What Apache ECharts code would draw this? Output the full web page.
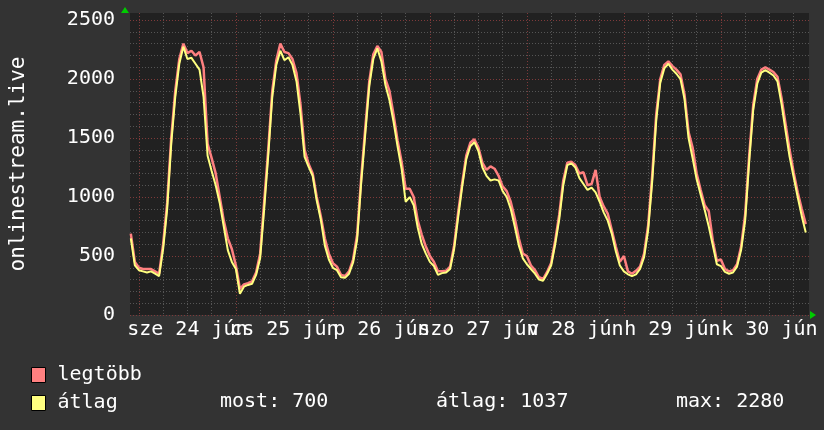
<!DOCTYPE html>
<html style="height: 100%">
<head>
    <meta charset="utf-8">
</head>
<body style="height: 100%; margin: 0; background: #333333">
<div id="container" style="width: 824px; height: 430px"></div>
<script type="text/javascript" src="https://cdn.jsdelivr.net/npm/echarts@6/dist/echarts.min.js"></script>
<script type="text/javascript">
    // hours counted from sze 24 jún 00:00, one value per hour
    var startHour = -2;
    var legtobb = [
        690, 450,
        400, 390, 390, 390, 370, 350, 600, 950, 1500, 1900, 2170, 2300, 2220, 2240, 2200, 2230, 2100, 1450, 1330, 1200, 1000, 800, 650, 560,
        420, 220, 260, 270, 285, 360, 520, 960, 1400, 1900, 2160, 2300, 2230, 2220, 2170, 2050, 1780, 1400, 1280, 1200, 1000, 840, 650, 520,
        440, 410, 340, 330, 370, 470, 680, 1160, 1580, 1980, 2210, 2280, 2230, 2000, 1900, 1700, 1480, 1300, 1070, 1070, 1000, 800, 680, 580,
        500, 450, 370, 370, 375, 410, 590, 870, 1120, 1350, 1460, 1490, 1420, 1290, 1230, 1260, 1240, 1180, 1090, 1050, 960, 820, 650, 520,
        500, 420, 380, 320, 305, 365, 440, 630, 850, 1140, 1290, 1300, 1270, 1200, 1210, 1100, 1110, 1230, 1000, 920, 860, 720, 580, 450,
        500, 370, 350, 375, 410, 520, 760, 1180, 1700, 2000, 2120, 2150, 2110, 2080, 2040, 1870, 1550, 1420, 1200, 1060, 930, 880, 630, 460,
        470, 390, 370, 380, 430, 580, 850, 1350, 1780, 2000, 2080, 2100, 2080, 2060, 2020, 1840, 1620, 1400, 1210, 1040, 900, 770
    ];
    var atlag = [
        650, 420,
        380, 370, 360, 370, 350, 330, 560, 900, 1450, 1850, 2130, 2275, 2170, 2180, 2130, 2080, 1850, 1350, 1220, 1100, 950, 750, 550, 450,
        390, 180, 240, 255, 265, 340, 480, 900, 1350, 1850, 2120, 2240, 2160, 2185, 2120, 1980, 1700, 1340, 1255, 1180, 970, 810, 590, 470,
        400, 380, 320, 315, 350, 445, 640, 1120, 1530, 1940, 2170, 2260, 2150, 1950, 1820, 1640, 1430, 1240, 960, 1000, 930, 740, 600, 520,
        450, 415, 340, 355, 360, 390, 560, 830, 1090, 1320, 1430, 1465, 1390, 1250, 1180, 1140, 1150, 1140, 1050, 1000, 900, 750, 590, 480,
        430, 390, 350, 300, 290, 350, 420, 600, 810, 1100, 1270, 1285, 1250, 1160, 1110, 1060, 1080, 1040, 960, 870, 800, 690, 540, 420,
        370, 345, 330, 345, 390, 490, 720, 1130, 1650, 1970, 2090, 2130, 2080, 2045, 2000, 1830, 1500, 1330, 1150, 1020, 890, 750, 590, 430,
        415, 365, 350, 360, 410, 550, 800, 1300, 1740, 1960, 2055, 2075, 2055, 2030, 1980, 1790, 1560, 1340, 1170, 1000, 840, 700
    ];

    var xGridHours = [0, 6, 12, 18, 24, 30, 36, 42, 48, 54, 60, 66, 72, 78, 84, 90, 96, 102, 108, 114, 120, 126, 132, 138, 144, 150, 156, 162];
    var xLabelHours = [12, 36, 60, 84, 108, 132, 156];
    var xLabels = ['sze 24 jún', 'cs 25 jún', 'p 26 jún', 'szo 27 jún', 'v 28 jún', 'h 29 jún', 'k 30 jún'];
    var yGrid = [];
    for (var g = 0; g <= 2500; g += 100) yGrid.push(g);
    var yLabels = [0, 500, 1000, 1500, 2000, 2500];

    var statNow = 700, statAvg = 1037, statMax = 2280;

    function toPoints(arr) {
        return arr.map(function (v, i) { return [startHour + i, v]; });
    }

    var font = 'DejaVu Sans Mono';
    var red = '#7e3a3a', gray = '#555555';

    // day labels overlap each other, so every other one goes on a second axis
    function labelAxis(hours, withGrid) {
        return {
            type: 'value', min: -2.2, max: 165.8, position: 'bottom',
            axisLine: { show: false },
            axisTick: { show: false, customValues: xGridHours },
            splitLine: { show: withGrid, lineStyle: { type: [1, 2], width: 1, color: [red, gray, gray, gray] } },
            axisLabel: {
                customValues: hours, color: '#fff', fontSize: 20, fontFamily: font, margin: 5,
                showMinLabel: true, showMaxLabel: true, hideOverlap: false,
                formatter: function (v) { return xLabels[xLabelHours.indexOf(v)]; }
            }
        };
    }
    var evenHours = xLabelHours.filter(function (h, i) { return i % 2 === 0; });
    var oddHours = xLabelHours.filter(function (h, i) { return i % 2 === 1; });

    var dom = document.getElementById("container");
    var myChart = echarts.init(dom);
    var option = {
        animation: false,
        backgroundColor: '#333333',
        textStyle: { fontFamily: font },
        grid: {
            left: 123, right: 15, top: 13, bottom: 115,
            show: true, backgroundColor: '#212121', borderWidth: 0
        },
        legend: {
            orient: 'vertical',
            left: 31, top: 365, padding: 0,
            itemWidth: 14, itemHeight: 15, itemGap: 8,
            icon: 'rect',
            itemStyle: { borderColor: '#000', borderWidth: 1 },
            textStyle: { color: '#fff', fontSize: 20, fontFamily: font, padding: [0, 0, 0, 7] },
            data: ['legtöbb', 'átlag']
        },
        xAxis: [labelAxis(evenHours, true), labelAxis(oddHours, false)],
        yAxis: {
            type: 'value', min: 0, max: 2560,
            name: 'onlinestream.live', nameLocation: 'middle', nameRotate: 90, nameGap: 101,
            nameTextStyle: { color: '#fff', fontSize: 21, fontFamily: font },
            axisLine: { show: false },
            axisTick: { show: false, customValues: yGrid },
            splitLine: { show: true, lineStyle: { type: [1, 2], width: 1, color: [red, gray, gray, gray, gray] } },
            axisLabel: {
                customValues: yLabels, color: '#fff', fontSize: 20, fontFamily: font, margin: 15,
                showMinLabel: true, showMaxLabel: true,
                formatter: function (v) { return String(v); }
            }
        },
        graphic: [
            { type: 'polygon', shape: { points: [[125, 7], [121, 13], [129, 13]] }, style: { fill: '#00cc00' } },
            { type: 'polygon', shape: { points: [[816, 315], [810, 311], [810, 319]] }, style: { fill: '#00cc00' } },
            { type: 'text', left: 220, top: 392, style: { text: 'most: ' + statNow, fill: '#fff', font: '20px "DejaVu Sans Mono"' } },
            { type: 'text', left: 436, top: 392, style: { text: 'átlag: ' + statAvg, fill: '#fff', font: '20px "DejaVu Sans Mono"' } },
            { type: 'text', left: 676, top: 392, style: { text: 'max: ' + statMax, fill: '#fff', font: '20px "DejaVu Sans Mono"' } }
        ],
        series: [
            {
                name: 'legtöbb', type: 'line', data: toPoints(legtobb), xAxisIndex: 0,
                symbol: 'none', color: '#ff8080',
                lineStyle: { width: 2.5, color: '#ff8080' }
            },
            {
                name: 'átlag', type: 'line', data: toPoints(atlag), xAxisIndex: 0,
                symbol: 'none', color: '#ffff80',
                lineStyle: { width: 2, color: '#ffff80' }
            }
        ]
    };
    myChart.setOption(option, true);
</script>
</body>
</html>
